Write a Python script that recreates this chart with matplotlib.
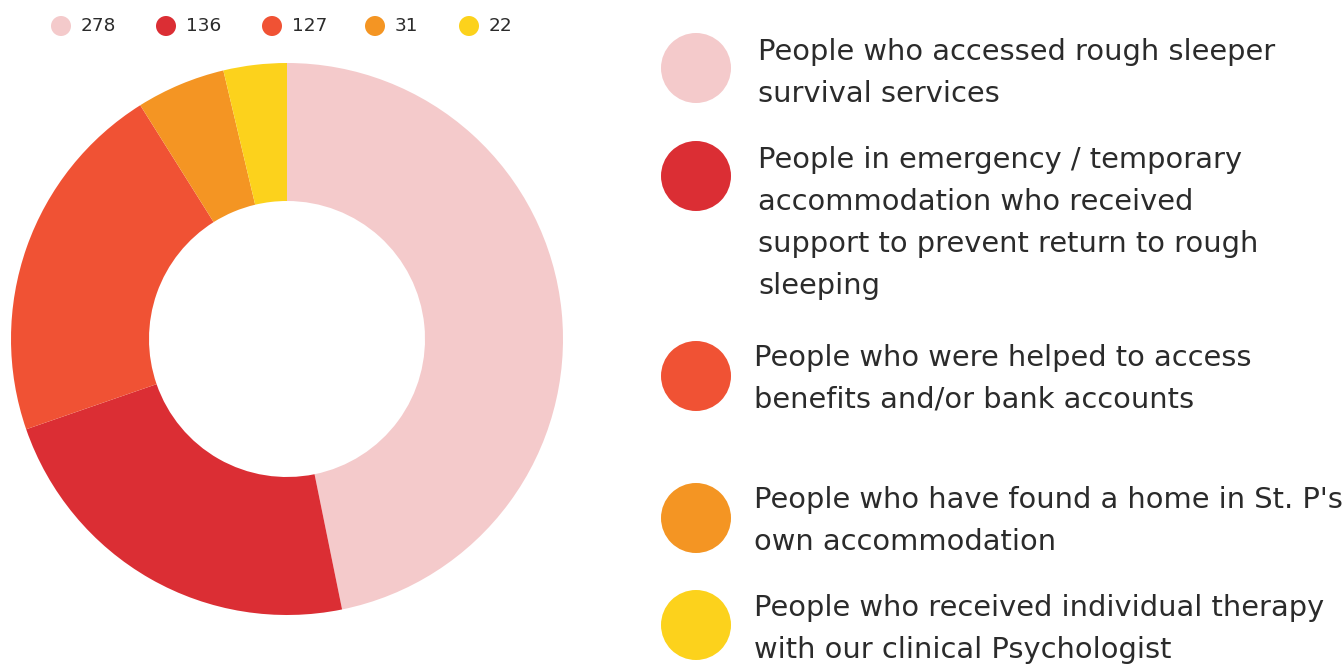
import matplotlib
matplotlib.use('Agg')
import matplotlib.pyplot as plt
from matplotlib.patches import Circle

# values and categories
valores = [278, 136, 127, 31, 22]
colores = ['#F4CACB', '#DB2E34', '#F05234', '#F49523', '#FCD21C']
etiquetas = [
    'People who accessed rough sleeper\nsurvival services',
    'People in emergency / temporary\naccommodation who received\nsupport to prevent return to rough\nsleeping',
    'People who were helped to access\nbenefits and/or bank accounts',
    "People who have found a home in St. P's\nown accommodation",
    'People who received individual therapy\nwith our clinical Psychologist',
]

W, H = 1344, 665
color_texto = '#2b2b2b'
plt.rcParams['font.family'] = ['DejaVu Sans']

fig = plt.figure(figsize=(W / 100, H / 100), dpi=100)

#%% donut
cx, cy, r = 287, 339, 276
ax = fig.add_axes([(cx - r) / W, (H - cy - r) / H, 2 * r / W, 2 * r / H])
ax.pie(valores, colors=colores, startangle=90, counterclock=False,
       radius=1, wedgeprops=dict(width=0.5, linewidth=0))
ax.set_xlim(-1, 1)
ax.set_ylim(-1, 1)
ax.set_aspect('equal')
ax.axis('off')

#%% leyendas en coordenadas de pixel
lay = fig.add_axes([0, 0, 1, 1])
lay.set_xlim(0, W)
lay.set_ylim(H, 0)
lay.axis('off')

# leyenda de arriba
x_top = [61, 166, 272, 375, 469]
for x, v, c in zip(x_top, valores, colores):
    lay.add_patch(Circle((x, 26), 10, color=c, lw=0))
    lay.text(x + 20, 26, str(v), fontsize=13.3, color=color_texto,
             va='center', ha='left')

# leyenda de la derecha
y_circ = [68, 176, 376, 518, 625]
y_txt = [52, 160, 358, 500, 608]
x_txt = [758, 758, 754, 754, 754]
for yc, yt, xt, lab, c in zip(y_circ, y_txt, x_txt, etiquetas, colores):
    lay.add_patch(Circle((696, yc), 35, color=c, lw=0))
    for i, linea in enumerate(lab.split('\n')):
        lay.text(xt, yt + 42 * i, linea, fontsize=20.8, color=color_texto,
                 va='center', ha='left')

fig.savefig('out.png', dpi=100)
